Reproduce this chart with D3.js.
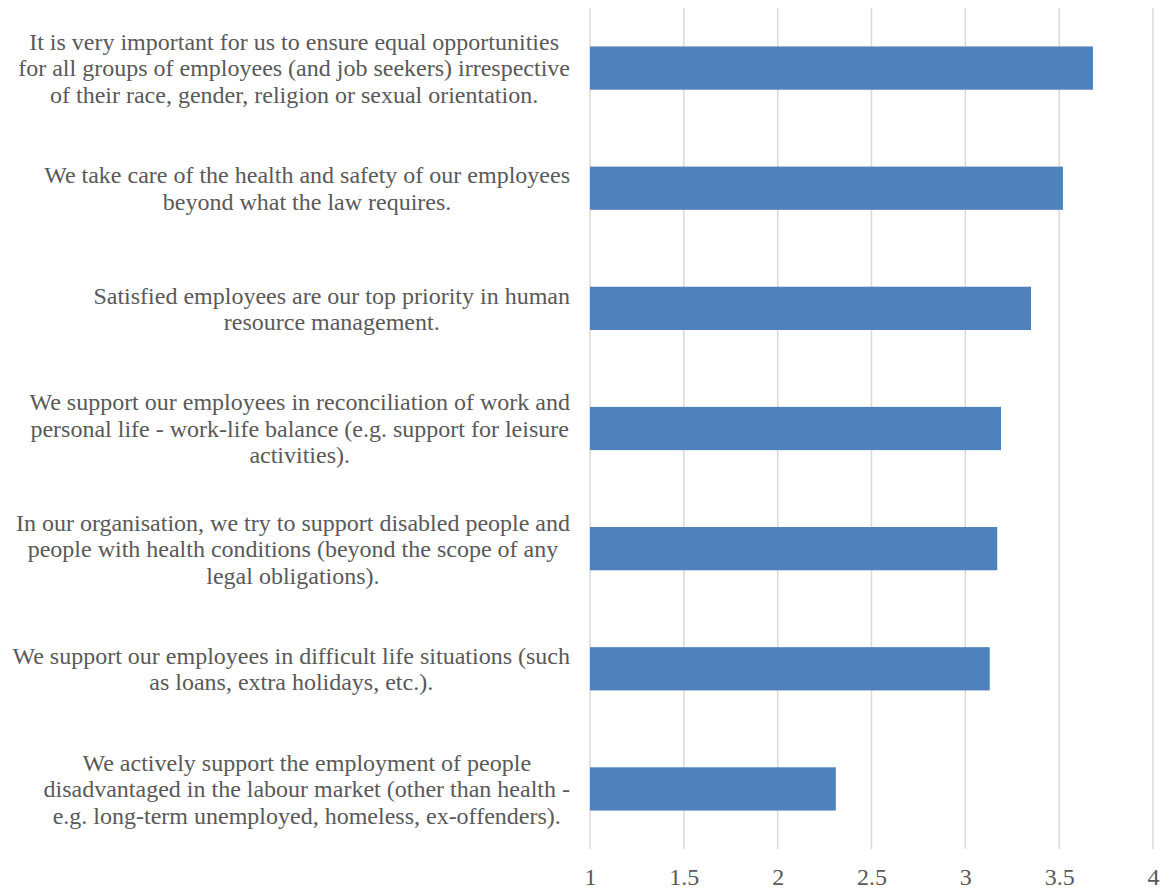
<!DOCTYPE html>
<html>
<head>
<meta charset="utf-8">
<script src="https://cdn.jsdelivr.net/npm/d3@7"></script>
<style>
  html, body { margin: 0; padding: 0; background: #fff; }
  svg { display: block; }
</style>
</head>
<body>
<svg id="chart" width="1165" height="891"></svg>
<script>
// Statements (top to bottom), each split into its printed lines
const statements = [
  ["It is very important for us to ensure equal opportunities",
   "for all groups of employees (and job seekers) irrespective",
   "of their race, gender, religion or sexual orientation."],
  ["We take care of the health and safety of our employees",
   "beyond what the law requires."],
  ["Satisfied employees are our top priority in human",
   "resource management."],
  ["We support our employees in reconciliation of work and",
   "personal life - work-life balance (e.g. support for leisure",
   "activities)."],
  ["In our organisation, we try to support disabled people and",
   "people with health conditions (beyond the scope of any",
   "legal obligations)."],
  ["We support our employees in difficult life situations (such",
   "as loans, extra holidays, etc.)."],
  ["We actively support the employment of people",
   "disadvantaged in the labour market (other than health -",
   "e.g. long-term unemployed, homeless, ex-offenders)."]
];
const meanScores = [3.68, 3.52, 3.35, 3.19, 3.17, 3.13, 2.31];
const tickValues = [1, 1.5, 2, 2.5, 3, 3.5, 4];

const svg = d3.select("#chart");
const plot = { left: 590, right: 1153, top: 8, bottom: 849 };
const labelRight = 570;
const fontSize = 24;
const lineHeight = 26.5;
const fontFamily = "'Liberation Serif', 'Times New Roman', serif";
const textColor = "#595959";

const ids = d3.range(statements.length);

const x = d3.scaleLinear()
  .domain([1, 4])
  .range([plot.left, plot.right]);

const y = d3.scaleBand()
  .domain(ids)
  .range([plot.top, plot.bottom])
  .paddingInner(0.64)
  .paddingOuter(0.32);

// Vertical gridlines
svg.append("g")
  .selectAll("line")
  .data(tickValues)
  .join("line")
  .attr("x1", d => x(d)).attr("x2", d => x(d))
  .attr("y1", plot.top).attr("y2", plot.bottom)
  .attr("stroke", "#d9d9d9")
  .attr("stroke-width", 1.5);

// Bars
svg.append("g")
  .selectAll("rect")
  .data(ids)
  .join("rect")
  .attr("x", x(1))
  .attr("y", i => y(i))
  .attr("width", i => x(meanScores[i]) - x(1))
  .attr("height", y.bandwidth())
  .attr("fill", "#4f81bd");

// Bottom axis labels
const xAxis = d3.axisBottom(x)
  .tickValues(tickValues)
  .tickSize(0)
  .tickPadding(19)
  .tickFormat(d3.format("~g"));

const axisG = svg.append("g")
  .attr("transform", `translate(0,${plot.bottom})`)
  .call(xAxis);
axisG.select(".domain").remove();
axisG.selectAll("text")
  .style("font-family", fontFamily)
  .style("font-size", fontSize + "px")
  .style("fill", textColor);

// Category labels: lines centred within their block, block right-aligned
const labelG = svg.append("g");
ids.forEach(i => {
  const lines = statements[i];
  const g = labelG.append("g");
  const texts = lines.map((ln, k) =>
    g.append("text")
      .style("font-family", fontFamily)
      .style("font-size", fontSize + "px")
      .style("fill", textColor)
      .attr("text-anchor", "middle")
      .attr("dy", "0.35em")
      .attr("y", y(i) + y.bandwidth() / 2 + (k - (lines.length - 1) / 2) * lineHeight)
      .text(ln)
  );
  const maxW = d3.max(texts, t => t.node().getComputedTextLength());
  texts.forEach(t => t.attr("x", labelRight - maxW / 2));
});
</script>
</body>
</html>
